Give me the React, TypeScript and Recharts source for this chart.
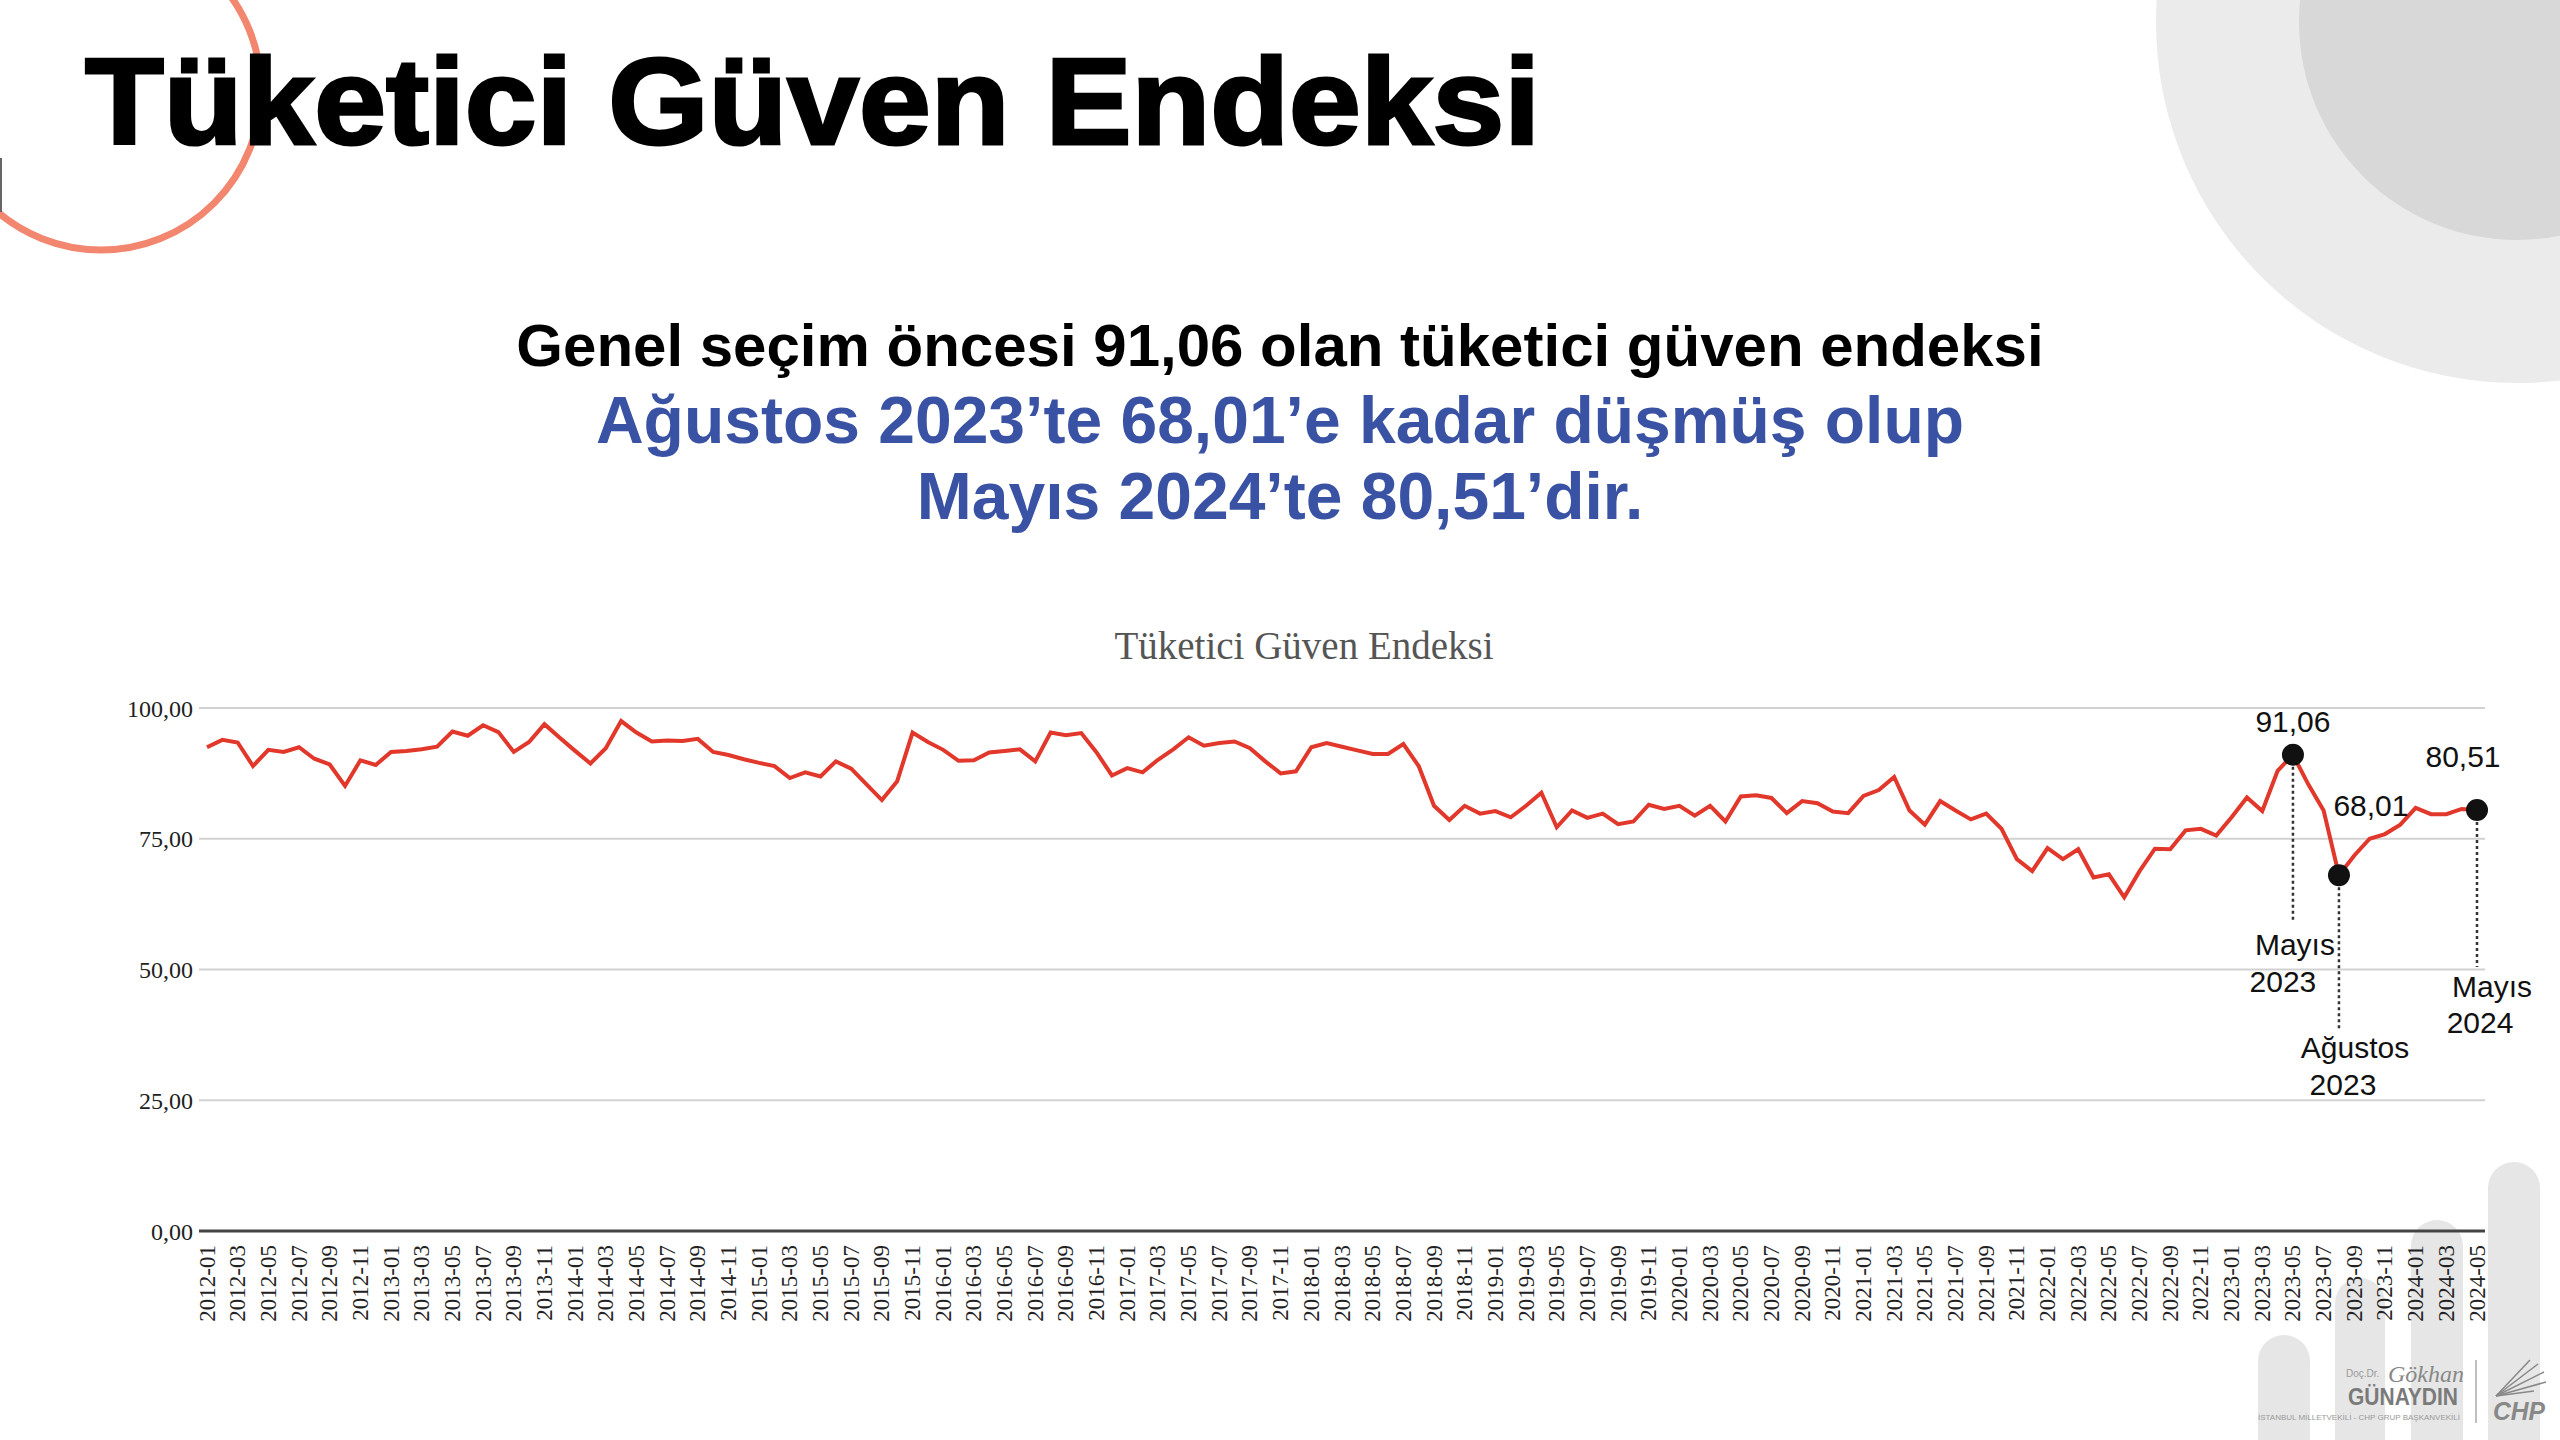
import React from "react";
import { LineChart, Line, XAxis, YAxis, CartesianGrid } from "recharts";

// monthly index values, one array per year
const years = [2012, 2013, 2014, 2015, 2016, 2017, 2018, 2019, 2020, 2021, 2022, 2023, 2024];
const values2012 = [92.5, 93.9, 93.4, 88.9, 92.0, 91.6, 92.5, 90.3, 89.2, 85.1, 90.0, 89.1];
const values2013 = [91.6, 91.8, 92.1, 92.6, 95.5, 94.7, 96.7, 95.4, 91.6, 93.5, 96.9, 94.3];
const values2014 = [91.8, 89.4, 92.3, 97.5, 95.3, 93.6, 93.8, 93.7, 94.1, 91.6, 91.0, 90.2];
const values2015 = [89.5, 88.9, 86.6, 87.7, 86.9, 89.8, 88.4, 85.4, 82.4, 86.0, 95.3, 93.5];
const values2016 = [92.0, 89.9, 90.0, 91.5, 91.8, 92.1, 89.8, 95.3, 94.8, 95.2, 91.5, 87.1];
const values2017 = [88.5, 87.7, 90.1, 92.1, 94.4, 92.8, 93.3, 93.6, 92.3, 89.8, 87.5, 87.9];
const values2018 = [92.5, 93.3, 92.6, 91.9, 91.2, 91.2, 93.1, 88.9, 81.3, 78.6, 81.3, 79.8];
const values2019 = [80.3, 79.1, 81.3, 83.8, 77.2, 80.4, 79.0, 79.8, 77.8, 78.3, 81.5, 80.7];
const values2020 = [81.3, 79.4, 81.3, 78.3, 83.1, 83.3, 82.8, 79.9, 82.2, 81.8, 80.2, 79.9];
const values2021 = [83.2, 84.3, 86.8, 80.4, 77.7, 82.2, 80.4, 78.7, 79.8, 76.9, 71.1, 68.8];
const values2022 = [73.2, 71.1, 73.0, 67.6, 68.2, 63.8, 68.8, 73.1, 73.0, 76.6, 76.9, 75.6];
const values2023 = [79.1, 82.9, 80.3, 88.0, 91.06, 85.4, 80.4, 68.01, 71.8, 75.0, 75.9, 77.7];
const values2024 = [80.9, 79.7, 79.7, 80.7, 80.51];

const yearValues = [
  values2012, values2013, values2014, values2015, values2016, values2017, values2018,
  values2019, values2020, values2021, values2022, values2023, values2024,
];

const yTicks = [0, 25, 50, 75, 100];

// highlighted points
const highlightMonths = ["2023-05", "2023-08", "2024-05"];
const highlightValueLabels = ["91,06", "68,01", "80,51"];
const highlightMonthLabels = [
  ["Mayıs", "2023"],
  ["Ağustos", "2023"],
  ["Mayıs", "2024"],
];

const data = years.flatMap((y, i) =>
  yearValues[i].map((v, m) => ({
    month: `${y}-${String(m + 1).padStart(2, "0")}`,
    value: v,
  }))
);

// offsets of the annotation texts from their dot
const annotationLayout = [
  { vx: 0, vy: -23, len: 167, a: [2, 200], b: [-10, 237] },
  { vx: 32, vy: -59, len: 155, a: [16, 183], b: [4, 220] },
  { vx: -14, vy: -43, len: 157, a: [15, 187], b: [3, 223] },
];

const fmt = (v: number) => v.toFixed(2).replace(".", ",");

const sans = "'Liberation Sans', Arial, Helvetica, sans-serif";
const serif = "'Liberation Serif', 'Times New Roman', serif";

function HighlightDot(props: any) {
  const { cx, cy, payload, index } = props;
  const k = highlightMonths.indexOf(payload.month);
  if (k < 0 || cx == null) return <g key={`d${index}`} />;
  const l = annotationLayout[k];
  const txt = { fontFamily: sans, fontSize: 30, fill: "#111", textAnchor: "middle" as const };
  return (
    <g key={`d${index}`}>
      <line x1={cx} y1={cy} x2={cx} y2={cy + l.len} stroke="#333" strokeWidth={2.5} strokeDasharray="3 3" />
      <circle cx={cx} cy={cy} r={11} fill="#111" />
      <text x={cx + l.vx} y={cy + l.vy} {...txt}>{highlightValueLabels[k]}</text>
      <text x={cx + l.a[0]} y={cy + l.a[1]} {...txt}>{highlightMonthLabels[k][0]}</text>
      <text x={cx + l.b[0]} y={cy + l.b[1]} {...txt}>{highlightMonthLabels[k][1]}</text>
    </g>
  );
}

function MonthTick(props: any) {
  const { x, y, payload } = props;
  return (
    <text
      x={x}
      y={y}
      transform={`rotate(-90, ${x}, ${y})`}
      textAnchor="end"
      dominantBaseline="central"
      fontFamily={serif}
      fontSize={23}
      fill="#222"
    >
      {payload.value}
    </text>
  );
}

export default function App() {
  return (
    <div style={{ position: "absolute", left: 0, top: 0, width: 2560, height: 1440, background: "#fff", overflow: "hidden" }}>
      <svg width={2560} height={1440} style={{ position: "absolute", left: 0, top: 0 }}>
        <circle cx={2517} cy={22} r={361} fill="#ebebeb" />
        <circle cx={2517} cy={22} r={218} fill="#d8d8d8" />
        <circle cx={101} cy={90} r={160} fill="none" stroke="#f2866f" strokeWidth={7} />
        <line x1={1} y1={158} x2={1} y2={212} stroke="#666" strokeWidth={2} />
        <rect x={2258} y={1335} width={52} height={160} rx={26} fill="#e6e6e6" />
        <rect x={2335} y={1278} width={50} height={220} rx={25} fill="#e6e6e6" />
        <rect x={2411} y={1220} width={52} height={280} rx={26} fill="#e6e6e6" />
        <rect x={2488} y={1162} width={52} height={340} rx={26} fill="#e6e6e6" />

        <text x={85} y={144} fontFamily={sans} fontWeight={700} fontSize={122} fill="#000"
          stroke="#000" strokeWidth={3} textLength={1455} lengthAdjust="spacingAndGlyphs">
          Tüketici Güven Endeksi
        </text>
        <text x={1280} y={366} textAnchor="middle" fontFamily={sans} fontWeight={700} fontSize={60} fill="#000">
          Genel seçim öncesi 91,06 olan tüketici güven endeksi
        </text>
        <text x={1280} y={443} textAnchor="middle" fontFamily={sans} fontWeight={700} fontSize={66} fill="#3a52a3">
          Ağustos 2023’te 68,01’e kadar düşmüş olup
        </text>
        <text x={1280} y={519} textAnchor="middle" fontFamily={sans} fontWeight={700} fontSize={66} fill="#3a52a3">
          Mayıs 2024’te 80,51’dir.
        </text>
        <text x={1304} y={659} textAnchor="middle" fontFamily={serif} fontSize={39} fill="#555">
          Tüketici Güven Endeksi
        </text>
      </svg>

      <div style={{ position: "absolute", left: 0, top: 600 }}>
        <LineChart width={2560} height={760} data={data} margin={{ top: 108, right: 75, bottom: 29, left: 89 }}>
          <CartesianGrid vertical={false} stroke="#d2d2d2" strokeWidth={2} />
          <XAxis
            dataKey="month"
            interval={1}
            height={100}
            padding={{ left: 8, right: 8 }}
            tickLine={false}
            tickSize={0}
            tickMargin={14}
            axisLine={{ stroke: "#444", strokeWidth: 3 }}
            tick={<MonthTick />}
          />
          <YAxis
            domain={[0, 100]}
            ticks={yTicks}
            width={110}
            axisLine={false}
            tickLine={false}
            tickSize={0}
            tickMargin={6}
            tickFormatter={fmt}
            tick={{ fontFamily: serif, fontSize: 24, fill: "#222" }}
          />
          <Line
            type="linear"
            dataKey="value"
            stroke="#e2372b"
            strokeWidth={4}
            dot={(p: any) => <HighlightDot key={`hd${p.index}`} {...p} />}
            activeDot={false}
            isAnimationActive={false}
          />
        </LineChart>
      </div>

      <svg width={2560} height={1440} style={{ position: "absolute", left: 0, top: 0, pointerEvents: "none" }}>
        <text x={2346} y={1377} fontFamily={sans} fontSize={10} fill="#999">Doç.Dr.</text>
        <text x={2388} y={1382} fontFamily={serif} fontStyle="italic" fontSize={24} fill="#888">Gökhan</text>
        <text x={2348} y={1405} fontFamily={sans} fontWeight={700} fontSize={24} fill="#7a7a7a"
          textLength={110} lengthAdjust="spacingAndGlyphs">GÜNAYDIN</text>
        <text x={2258} y={1420} fontFamily={sans} fontSize={8} fill="#999"
          textLength={202} lengthAdjust="spacingAndGlyphs">İSTANBUL MİLLETVEKİLİ - CHP GRUP BAŞKANVEKİLİ</text>
        <line x1={2476} y1={1360} x2={2476} y2={1423} stroke="#aaa" strokeWidth={1.5} />
        <g stroke="#888" strokeWidth={1.5}>
          <line x1={2496} y1={1396} x2={2530} y2={1360} />
          <line x1={2496} y1={1396} x2={2538} y2={1364} />
          <line x1={2496} y1={1396} x2={2544} y2={1372} />
          <line x1={2496} y1={1396} x2={2546} y2={1382} />
          <line x1={2496} y1={1396} x2={2534} y2={1391} />
        </g>
        <text x={2493} y={1420} fontFamily={sans} fontWeight={700} fontStyle="italic" fontSize={26} fill="#888"
          textLength={52} lengthAdjust="spacingAndGlyphs">CHP</text>
      </svg>
    </div>
  );
}
